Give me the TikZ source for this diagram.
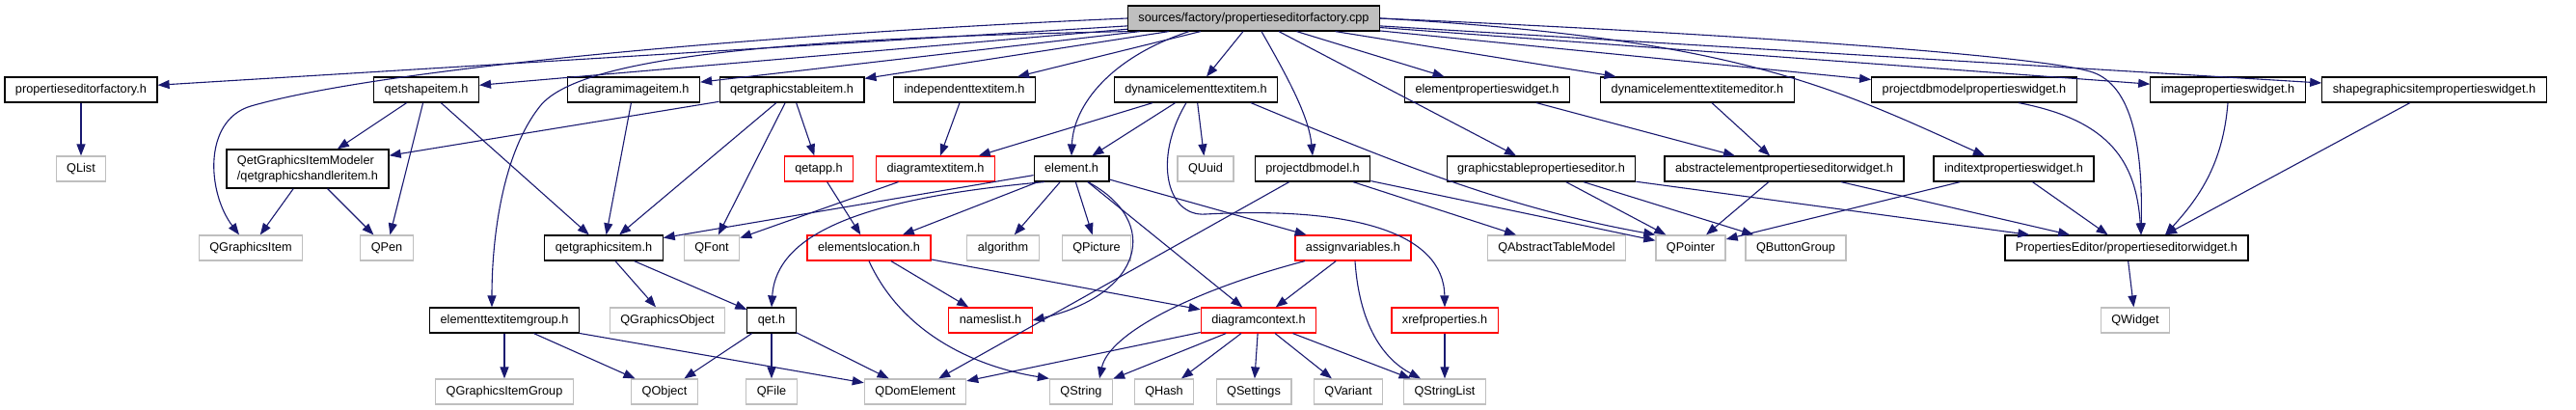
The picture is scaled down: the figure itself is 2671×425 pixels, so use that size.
\documentclass[tikz,border=0pt]{standalone}
\usepackage{fontspec}
\setmainfont{Liberation Sans}
\usetikzlibrary{arrows.meta}
\definecolor{edgeblue}{HTML}{191970}
\definecolor{sysgray}{HTML}{BFBFBF}
\newcommand\depfont{\fontsize{12.7}{15.5}\selectfont}

\begin{document}
\begin{tikzpicture}[x=1pt,y=-1pt,
  box/.style={draw=black,line width=1.2pt,inner xsep=11pt,minimum height=26pt,font=\depfont},
  file/.style={box,text height=9.5pt,text depth=2.7pt},
  sys/.style={file,draw=sysgray},
  trunc/.style={file,draw=red},
  dep/.style={draw=edgeblue,line width=1.1pt,-{Triangle[length=12pt,width=9pt]}}]
\useasboundingbox (0,0) rectangle (2671,425);
\node[file,fill=sysgray] (root) at (1300,19) {sources/factory/propertieseditorfactory.cpp};
\node[file] (pefh) at (84,93) {propertieseditorfactory.h};
\node[file] (shape) at (442,93) {qetshapeitem.h};
\node[file] (dimg) at (657,93) {diagramimageitem.h};
\node[file] (tabitem) at (821,93) {qetgraphicstableitem.h};
\node[file] (indtext) at (1000,93) {independenttextitem.h};
\node[file] (dyntext) at (1240,93) {dynamicelementtextitem.h};
\node[file] (elwidget) at (1542,93) {elementpropertieswidget.h};
\node[file] (dyneditor) at (1760,93) {dynamicelementtextitemeditor.h};
\node[file] (dbwidget) at (2047,93) {projectdbmodelpropertieswidget.h};
\node[file] (imgwidget) at (2310,93) {imagepropertieswidget.h};
\node[file] (shapewidget) at (2524,93) {shapegraphicsitempropertieswidget.h};
\node[sys] (qlist) at (84,175) {QList};
\node[box,align=left,minimum height=40pt] (handler) at (319,175) {QetGraphicsItemModeler\\/qetgraphicshandleritem.h};
\node[trunc] (qetapp) at (849,175) {qetapp.h};
\node[trunc] (dtext) at (970,175) {diagramtextitem.h};
\node[file] (element) at (1111,175) {element.h};
\node[sys] (quuid) at (1250,175) {QUuid};
\node[file] (dbmodel) at (1361,175) {projectdbmodel.h};
\node[file] (tableeditor) at (1598,175) {graphicstablepropertieseditor.h};
\node[file] (abswidget) at (1850,175) {abstractelementpropertieseditorwidget.h};
\node[file] (inditext) at (2088,175) {inditextpropertieswidget.h};
\node[sys] (qgitem) at (260,257) {QGraphicsItem};
\node[sys] (qpen) at (401,257) {QPen};
\node[file] (gitem) at (626,257) {qetgraphicsitem.h};
\node[sys] (qfont) at (738,257) {QFont};
\node[trunc] (eloc) at (901,257) {elementslocation.h};
\node[sys] (algo) at (1040,257) {algorithm};
\node[sys] (qpicture) at (1137,257) {QPicture};
\node[trunc] (assign) at (1403,257) {assignvariables.h};
\node[sys] (qatm) at (1614,257) {QAbstractTableModel};
\node[sys] (qpointer) at (1753,257) {QPointer};
\node[sys] (qbtn) at (1862,257) {QButtonGroup};
\node[file] (pewidget) at (2205,257) {PropertiesEditor/propertieseditorwidget.h};
\node[file] (group) at (523,332) {elementtextitemgroup.h};
\node[sys] (qgobj) at (692,332) {QGraphicsObject};
\node[file] (qet) at (800,332) {qet.h};
\node[trunc] (names) at (1027,332) {nameslist.h};
\node[trunc] (dctx) at (1305,332) {diagramcontext.h};
\node[trunc] (xref) at (1498,332) {xrefproperties.h};
\node[sys] (qwidget) at (2214,332) {QWidget};
\node[sys] (qgigroup) at (523,406) {QGraphicsItemGroup};
\node[sys] (qobject) at (689,406) {QObject};
\node[sys] (qfile) at (800,406) {QFile};
\node[sys] (qdom) at (949,406) {QDomElement};
\node[sys] (qstring) at (1121,406) {QString};
\node[sys] (qhash) at (1207,406) {QHash};
\node[sys] (qsettings) at (1300,406) {QSettings};
\node[sys] (qvariant) at (1398,406) {QVariant};
\node[sys] (qstrlist) at (1498,406) {QStringList};
\draw[dep] (root) -- (pefh);
\draw[dep] (root) -- (shape);
\draw[dep] (root) -- (dimg);
\draw[dep] (root) -- (tabitem);
\draw[dep] (root) -- (indtext);
\draw[dep] (root) -- (dyntext);
\draw[dep] (root) -- (elwidget);
\draw[dep] (root) -- (dyneditor);
\draw[dep] (root) -- (dbwidget);
\draw[dep] (root) -- (imgwidget);
\draw[dep] (root) -- (shapewidget);
\draw[dep] (root) -- (tableeditor);
\draw[dep] ([xshift=-67pt]root.south) .. controls (1150,60) and (1113,110) .. (element.north);
\draw[dep] ([xshift=8pt]root.south) .. controls (1335,80) and (1357,120) .. (dbmodel.north);
\draw[dep] (root.east) .. controls (1800,40) and (1900,90) .. (inditext);
\draw[dep] (root.east) .. controls (1800,35) and (2120,58) .. (2170,75) .. controls (2210,89) and (2222,150) .. ([xshift=15pt]pewidget.north);
\draw[dep] (root.west) .. controls (800,35) and (400,70) .. (260,110) .. controls (210,125) and (215,200) .. ([xshift=-12pt]qgitem.north);
\draw[dep] (root.south west) .. controls (800,40) and (600,60) .. (560,110) .. controls (520,160) and (510,250) .. ([xshift=-13pt]group.north);
\draw[dep] (pefh) -- (qlist);
\draw[dep] (shape) -- (handler);
\draw[dep] (shape) -- (qpen);
\draw[dep] (shape) -- (gitem);
\draw[dep] (dimg) -- (gitem);
\draw[dep] (tabitem) -- (handler);
\draw[dep] (tabitem) -- (gitem);
\draw[dep] (tabitem) -- (qfont);
\draw[dep] (tabitem) -- (qetapp);
\draw[dep] (indtext) -- (dtext);
\draw[dep] (dyntext) -- (dtext);
\draw[dep] (dyntext) -- (element);
\draw[dep] (dyntext) -- (quuid);
\draw[dep] ([xshift=-10pt]dyntext.south) .. controls (1195,165) and (1210,225) .. (1250,222) .. controls (1400,214) and (1497,240) .. (xref.north);
\draw[dep] ([xshift=57pt]dyntext.south) .. controls (1450,170) and (1560,215) .. (qpointer.north west);
\draw[dep] (elwidget) -- (abswidget);
\draw[dep] (dyneditor) -- (abswidget);
\draw[dep] ([xshift=46pt]dbwidget.south) .. controls (2190,125) and (2215,170) .. ([xshift=15pt]pewidget.north);
\draw[dep] (imgwidget.south) .. controls (2305,170) and (2280,205) .. ([xshift=40pt]pewidget.north);
\draw[dep] (shapewidget) -- ([xshift=40pt]pewidget.north);
\draw[dep] (handler) -- (qgitem);
\draw[dep] (handler) -- (qpen);
\draw[dep] (qetapp) -- (eloc);
\draw[dep] (dtext) -- (qfont);
\draw[dep] (element) -- (gitem);
\draw[dep] (element) -- (eloc);
\draw[dep] (element) -- (algo);
\draw[dep] (element) -- (qpicture);
\draw[dep] (element) -- (dctx);
\draw[dep] (element) -- (assign);
\draw[dep] ([xshift=17pt]element.south) .. controls (1205,230) and (1185,305) .. (names.east);
\draw[dep] ([xshift=-28pt]element.south) .. controls (900,205) and (805,240) .. (qet.north);
\draw[dep] (dbmodel) -- (qatm);
\draw[dep] (dbmodel) -- (qpointer);
\draw[dep] (dbmodel) -- (qdom);
\draw[dep] (tableeditor) -- (qpointer);
\draw[dep] (tableeditor) -- (qbtn);
\draw[dep] (tableeditor) -- (pewidget);
\draw[dep] (abswidget) -- (qpointer);
\draw[dep] (abswidget) -- (pewidget);
\draw[dep] (inditext) -- (qpointer);
\draw[dep] (inditext) -- (pewidget);
\draw[dep] (gitem) -- (qgobj);
\draw[dep] (gitem) -- (qet);
\draw[dep] (eloc) -- (names);
\draw[dep] (eloc) -- (dctx);
\draw[dep] (eloc.south) .. controls (935,345) and (1010,380) .. (qstring.north west);
\draw[dep] (assign) -- (dctx);
\draw[dep] ([xshift=-50pt]assign.south) .. controls (1240,300) and (1150,345) .. ([xshift=19pt]qstring.north);
\draw[dep] ([xshift=2pt]assign.south) .. controls (1410,345) and (1440,375) .. ([xshift=-25pt]qstrlist.north);
\draw[dep] (pewidget) -- (qwidget);
\draw[dep] (group) -- (qgigroup);
\draw[dep] (group) -- (qobject);
\draw[dep] (group) -- (qdom);
\draw[dep] (qet) -- (qobject);
\draw[dep] (qet) -- (qfile);
\draw[dep] (qet) -- (qdom);
\draw[dep] (dctx) -- (qdom);
\draw[dep] (dctx) -- (qstring);
\draw[dep] (dctx) -- (qhash);
\draw[dep] (dctx) -- (qsettings);
\draw[dep] (dctx) -- (qvariant);
\draw[dep] (dctx) -- (qstrlist);
\draw[dep] (xref) -- (qstrlist);
\end{tikzpicture}
\end{document}
